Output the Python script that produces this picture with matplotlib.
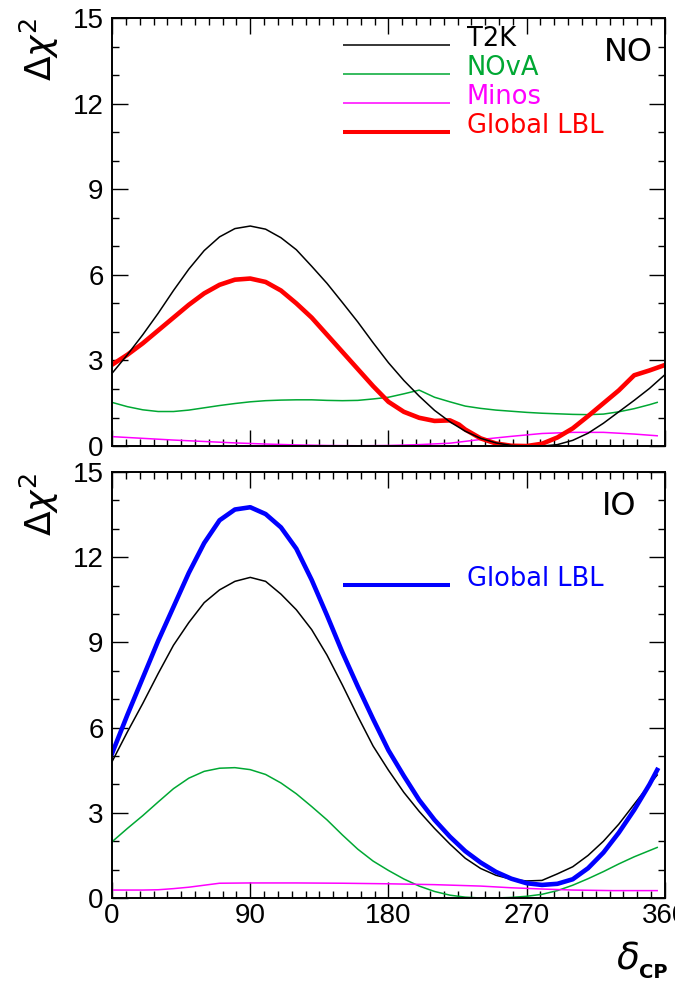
import matplotlib
matplotlib.use('Agg')
import matplotlib.pyplot as plt
import matplotlib.ticker as ticker

# delta_CP grids (degrees)
x_full = list(range(0, 361, 10))
x_355 = list(range(0, 351, 10)) + [355]

# ---- normal ordering (top) ----
no_t2k = [2.55, 3.2, 3.9, 4.65, 5.45, 6.2, 6.85, 7.33, 7.62, 7.71,
          7.6, 7.3, 6.88, 6.3, 5.7, 5.03, 4.35, 3.62, 2.92, 2.3,
          1.75, 1.25, 0.85, 0.52, 0.27, 0.11, 0.02, 0.0, 0.0, 0.05,
          0.2, 0.45, 0.8, 1.2, 1.6, 2.02, 2.5]
no_glob_x = list(range(0, 221, 10)) + [226] + list(range(230, 361, 10))
no_glob = [2.85, 3.2, 3.6, 4.05, 4.5, 4.95, 5.35, 5.65, 5.83, 5.87,
           5.75, 5.45, 5.0, 4.5, 3.9, 3.3, 2.7, 2.1, 1.55, 1.2,
           0.99, 0.88, 0.9, 0.75, 0.58, 0.27, 0.09, 0.01, 0.0, 0.08,
           0.3, 0.62, 1.05, 1.5, 1.95, 2.48, 2.65, 2.84]
no_nova = [1.53, 1.38, 1.27, 1.21, 1.21, 1.26, 1.34, 1.42, 1.49, 1.55,
           1.59, 1.61, 1.62, 1.62, 1.6, 1.59, 1.6, 1.65, 1.71, 1.83,
           1.96, 1.71, 1.55, 1.4, 1.32, 1.26, 1.22, 1.18, 1.15, 1.13,
           1.11, 1.1, 1.12, 1.2, 1.31, 1.45, 1.53]
no_minos_x = [0, 20, 40, 60, 80, 100, 120, 140, 160, 180, 200, 220,
              240, 260, 280, 300, 320, 340, 355]
no_minos = [0.33, 0.27, 0.21, 0.16, 0.11, 0.07, 0.04, 0.02, 0.01, 0.02,
            0.05, 0.1, 0.23, 0.34, 0.44, 0.48, 0.48, 0.42, 0.36]

# ---- inverted ordering (bottom) ----
io_glob = [5.09, 6.45, 7.75, 9.05, 10.25, 11.45, 12.5, 13.3, 13.68, 13.76,
           13.52, 13.05, 12.3, 11.2, 9.95, 8.65, 7.45, 6.3, 5.2, 4.3,
           3.45, 2.75, 2.16, 1.65, 1.25, 0.92, 0.68, 0.52, 0.46, 0.5,
           0.66, 1.05, 1.6, 2.3, 3.1, 4.0, 4.51]
io_t2k = [4.8, 5.85, 6.85, 7.9, 8.9, 9.7, 10.4, 10.85, 11.15, 11.29,
          11.15, 10.7, 10.15, 9.45, 8.55, 7.5, 6.4, 5.35, 4.5, 3.72,
          3.05, 2.45, 1.9, 1.4, 1.04, 0.8, 0.66, 0.6, 0.62, 0.85,
          1.1, 1.5, 2.0, 2.6, 3.3, 4.0, 4.33]
io_nova = [1.98, 2.45, 2.9, 3.38, 3.85, 4.22, 4.46, 4.57, 4.59, 4.52,
           4.35, 4.05, 3.67, 3.22, 2.75, 2.22, 1.72, 1.3, 0.97, 0.67,
           0.42, 0.23, 0.1, 0.03, 0.0, 0.0, 0.02, 0.06, 0.13, 0.26,
           0.45, 0.68, 0.93, 1.2, 1.45, 1.67, 1.78]
io_minos_x = [0, 20, 30, 40, 50, 60, 70, 90, 120, 150, 180, 210, 240,
              260, 283, 300, 326, 355]
io_minos = [0.28, 0.28, 0.29, 0.33, 0.38, 0.45, 0.52, 0.53, 0.53, 0.52,
            0.5, 0.47, 0.42, 0.36, 0.31, 0.28, 0.26, 0.26]

GREEN = '#00a833'
THIN = 1.1
THICK = 3.3
TXT = 'DejaVu Sans'

fig = plt.figure(figsize=(6.75, 9.84), dpi=100)
ax1 = fig.add_axes([0.166, 0.5467, 0.819, 0.435])
ax2 = fig.add_axes([0.166, 0.0874, 0.819, 0.4329])

for ax in (ax1, ax2):
    ax.set_xlim(0, 360)
    ax.set_ylim(0, 15)
    ax.xaxis.set_major_locator(ticker.MultipleLocator(90))
    ax.xaxis.set_minor_locator(ticker.MultipleLocator(9))
    ax.yaxis.set_major_locator(ticker.MultipleLocator(3))
    ax.yaxis.set_minor_locator(ticker.MultipleLocator(1))
    ax.tick_params(which='both', direction='in', top=True, right=True,
                   width=1.0, labelsize=20, pad=6)
    ax.tick_params(which='major', length=11.5)
    ax.tick_params(which='minor', length=5)
    ax.tick_params(axis='x', pad=3.5)
    for s in ax.spines.values():
        s.set_linewidth(1.4)
    for lab in ax.get_xticklabels() + ax.get_yticklabels():
        lab.set_family('Liberation Sans')

ax1.tick_params(axis='x', labelbottom=False)

# top panel
ax1.plot(x_355, no_nova, color=GREEN, lw=THIN)
ax1.plot(no_minos_x, no_minos, color='#ff00ff', lw=THIN)
ax1.plot(no_glob_x, no_glob, color='#ff0000', lw=THICK)
ax1.plot(x_full, no_t2k, color='black', lw=THIN)

# bottom panel
ax2.plot(x_355, io_nova, color=GREEN, lw=THIN)
ax2.plot(io_minos_x, io_minos, color='#ff00ff', lw=THIN)
ax2.plot(x_355, io_t2k, color='black', lw=THIN)
ax2.plot(x_355, io_glob, color='#0000ff', lw=THICK)

# hand-made legends (ROOT style)
leg = [('T2K', 'black', THIN, 0.937), ('NOvA', GREEN, THIN, 0.869),
       ('Minos', '#ff00ff', THIN, 0.801), ('Global LBL', '#ff0000', 2.9, 0.734)]
for name, c, lw, yy in leg:
    ax1.plot([0.418, 0.611], [yy, yy], color=c, lw=lw, transform=ax1.transAxes,
             solid_capstyle='butt')
    ax1.text(0.642, yy - 0.002, name, color=c, fontsize=18.5, family=TXT,
             transform=ax1.transAxes, va='baseline')
ax2.plot([0.418, 0.611], [0.735, 0.735], color='#0000ff', lw=2.9,
         transform=ax2.transAxes, solid_capstyle='butt')
ax2.text(0.642, 0.733, 'Global LBL', color='#0000ff', fontsize=18.5, family=TXT,
         transform=ax2.transAxes, va='baseline')

ax1.text(0.978, 0.9, 'NO', fontsize=23, family=TXT, ha='right', va='baseline',
         transform=ax1.transAxes)
ax2.text(0.949, 0.899, 'IO', fontsize=23, family=TXT, ha='right', va='baseline',
         transform=ax2.transAxes)

fig.text(0.059, 0.982, r'$\Delta\chi^{2}$', fontsize=26, rotation=90,
         ha='center', va='top')
fig.text(0.059, 0.520, r'$\Delta\chi^{2}$', fontsize=26, rotation=90,
         ha='center', va='top')
fig.text(0.913, 0.016, r'$\delta$', fontsize=27, ha='left', va='baseline')
fig.text(0.947, 0.006, 'CP', fontsize=14, fontweight='bold', family=TXT,
         ha='left', va='baseline')

fig.savefig('out.png', dpi=100)
